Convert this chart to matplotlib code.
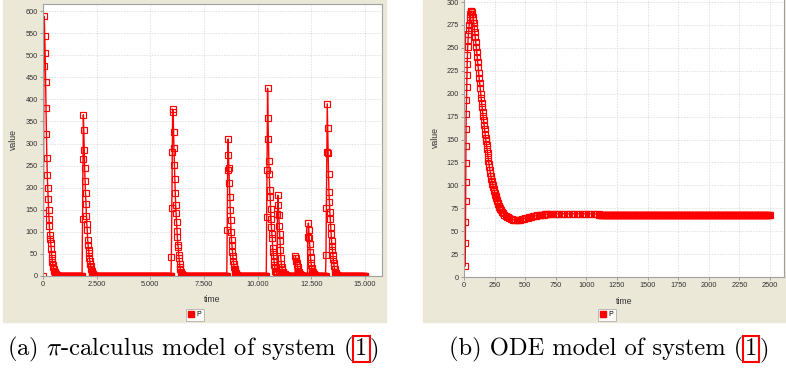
import numpy as np
import matplotlib
matplotlib.use("Agg")
import matplotlib.pyplot as plt
from matplotlib.patches import Rectangle
from matplotlib.lines import Line2D
from matplotlib.ticker import FuncFormatter, MultipleLocator

# ---- data: pi-calculus (stochastic) run, sampled every 20 time units ----
pi_step = 20
pi_end = 15000
spike_starts = [0, 1820, 5980, 8560, 10400, 10920, 11740, 12320, 13160]
spike_values = [
    [0, 142, 475, 588, 543, 505, 440, 380, 322, 268, 228, 200, 175, 150, 130, 113, 92, 84,
     75, 62, 50, 40, 32, 25, 20, 15, 12, 9, 7, 5, 4, 3, 2, 2, 1, 1],
    [0, 128, 265, 365, 330, 285, 245, 215, 188, 163, 135, 118, 105, 82, 70, 60, 52, 40,
     35, 28, 22, 15, 12, 8, 6, 5, 4, 3, 2, 1],
    [42, 155, 280, 378, 372, 325, 290, 252, 220, 188, 160, 143, 122, 103, 88, 70, 65, 48,
     40, 28, 20, 15, 10, 7, 5, 3, 2, 1],
    [0, 105, 240, 310, 275, 245, 210, 180, 150, 127, 100, 82, 70, 55, 45, 35, 28, 20,
     15, 12, 8, 6, 4, 3, 2, 1],
    [0, 133, 240, 425, 357, 310, 260, 230, 195, 180, 152, 128, 112, 95, 85, 63, 55, 45,
     35, 25, 18, 12, 10, 8, 6, 5],
    [140, 183, 160, 138, 113, 95, 80, 60, 40, 28, 20, 15, 10, 8, 6, 5, 5, 4, 3, 3, 2, 2, 1, 1],
    [0, 45, 40, 35, 30, 25, 20, 16, 12, 9, 7, 5, 4, 3, 2, 1, 1, 1, 1],
    [0, 88, 120, 105, 85, 72, 55, 42, 30, 25, 18, 12, 8, 6, 5, 4, 3, 2, 2, 1, 1],
    [0, 47, 155, 280, 390, 335, 278, 230, 190, 168, 145, 130, 112, 95, 80, 68, 60, 48,
     38, 30, 22, 15, 10, 8, 6, 4, 3, 2, 1],
]

# ---- data: ODE solution ----
ode_time = [10, 11, 12, 13, 14, 15, 16, 17, 18, 20, 22, 24, 26, 28, 30, 33, 36, 39, 42,
            45, 48, 51, 54, 57,
            60, 64, 68, 72, 76, 80, 84, 88, 92, 96, 100, 104, 108, 112, 116, 120, 124,
            128, 132, 136, 140, 144, 148, 152, 156, 160, 164, 168, 172, 176, 180, 184,
            188, 192, 196, 200, 204, 208, 212, 216, 220, 224, 228, 232, 236, 240, 244,
            248, 252, 256, 260, 264, 268, 272, 276, 280, 284, 288, 292, 296, 300,
            310, 320, 330, 340, 350, 360, 370, 380, 390, 400, 410, 420, 430, 440, 450,
            460, 470, 480, 490, 500, 510, 520, 530, 540, 550, 560, 570, 580, 590, 600,
            610, 620, 630, 640, 650, 660, 670, 680, 690, 700,
            720, 740, 760, 780, 800, 820, 840, 860, 880, 900, 920, 940, 960, 980, 1000,
            1020, 1040, 1060, 1080, 1100]
ode_value = [12, 37, 60, 83, 104, 124, 143, 162, 178, 193, 207, 220, 232, 242, 251, 259,
             265, 270, 275, 280, 284, 287, 289, 290,
             290, 289, 287, 284, 280, 277, 272, 267, 262, 256.5, 251, 246, 240, 234.5,
             229, 223, 217, 211.5, 206, 200, 195, 190, 185, 180.5, 176, 171, 166, 161,
             156.5, 152, 148, 144, 139.5, 135.5, 131, 127, 123, 120, 116.5, 113, 110,
             107, 104.5, 102, 100, 98, 96, 94, 92, 90, 88, 86, 84, 82.5, 81, 79.5, 78,
             76.5, 75, 74, 73,
             71, 69.5, 68, 67, 66, 65, 64.3, 63.6, 63, 62.6, 62.3, 62.1, 62.1, 62.2,
             62.4, 62.7, 63, 63.3, 63.7, 64, 64.4, 64.8, 65.1, 65.5, 65.8, 66.1, 66.4,
             66.7, 67, 67.2, 67.4, 67.6, 67.8, 68, 68.1, 68.3, 68.4, 68.5, 68.6, 68.7,
             68.8, 68.9, 69, 69, 69, 69, 69, 69, 69, 69, 69, 69, 69, 69, 69, 69, 69,
             69, 68.8, 68.6]
ode_tail_start, ode_tail_end, ode_tail_step = 1105, 2500, 5
ode_tail_value = 68

# ---- layout (pixels of the 786x368 picture) ----
W, H = 786, 368
beige = "#ebe8d8"
red = "#ff0000"


def fig_box(x0, y0, x1, y1):
    return [x0 / W, 1 - y1 / H, (x1 - x0) / W, (y1 - y0) / H]


plt.rcParams["font.family"] = ["Liberation Sans", "DejaVu Sans"]
plt.rcParams["mathtext.fontset"] = "cm"

fig = plt.figure(figsize=(W / 100, H / 100), dpi=100)
fig.patch.set_facecolor("white")
fig.add_artist(Rectangle((3 / W, 1 - 322 / H), (386 - 3) / W, 322 / H,
                         transform=fig.transFigure, color=beige, zorder=0))
fig.add_artist(Rectangle((423 / W, 1 - 322 / H), (786 - 423) / W, 322 / H,
                         transform=fig.transFigure, color=beige, zorder=0))

ax1 = fig.add_axes(fig_box(43, 4, 382, 276))
ax2 = fig.add_axes(fig_box(464, -3, 784, 277))

# build the sampled stochastic series
pi_time = np.arange(0, pi_end + pi_step, pi_step)
pi_value = np.zeros(len(pi_time))
for start, vals in zip(spike_starts, spike_values):
    i = start // pi_step
    pi_value[i:i + len(vals)] = vals

tail_t = list(range(ode_tail_start, ode_tail_end + 1, ode_tail_step))
ode_t = np.array(ode_time + tail_t)
ode_v = np.array(ode_value + [ode_tail_value] * len(tail_t))

style = dict(color=red, lw=1.0, marker="s", markersize=3.8, markerfacecolor="none",
             markeredgecolor=red, markeredgewidth=0.85)
ax1.plot(pi_time, pi_value, **style)
ax2.plot(ode_t, ode_v, **style)

ax1.set_xlim(0, 15790)
ax1.set_ylim(0, 616)
ax1.xaxis.set_major_locator(MultipleLocator(2500))
ax1.yaxis.set_major_locator(MultipleLocator(50))
ax1.xaxis.set_major_formatter(FuncFormatter(lambda v, p: f"{int(v):,}".replace(",", ".")))

ax2.set_xlim(0, 2614)
ax2.set_ylim(0, 305.5)
ax2.xaxis.set_major_locator(MultipleLocator(250))
ax2.yaxis.set_major_locator(MultipleLocator(25))

for ax, ylab_x, xlab_y in [(ax1, -0.074, -0.07), (ax2, -0.075, -0.071)]:
    ax.set_facecolor("white")
    ax.grid(True, color="#d4d4d4", lw=0.5, ls=(0, (2, 2)))
    ax.set_axisbelow(True)
    for s in ax.spines.values():
        s.set_color("#a0a0a0")
        s.set_linewidth(0.8)
    ax.tick_params(direction="out", length=2, width=0.5, color="#808080",
                   labelsize=5.3, labelcolor="#333333", pad=1.5)
    ax.set_ylabel("value", fontsize=6.3, color="#333333")
    ax.set_xlabel("time", fontsize=6.3, color="#333333")
    ax.yaxis.set_label_coords(ylab_x, 0.5)
    ax.xaxis.set_label_coords(0.5, xlab_y)

# legends below the plots
handle = [Line2D([], [], ls="none", marker="s", markersize=4, color=red)]
for ax, cx in [(ax1, 195), (ax2, 607)]:
    leg = ax.legend(handle, ["P"], loc="center", bbox_to_anchor=(cx / W, 1 - 315 / H),
                    bbox_transform=fig.transFigure, fontsize=5, frameon=True,
                    fancybox=False, handlelength=0.8, handletextpad=0.4,
                    borderpad=0.35, borderaxespad=0)
    leg.get_frame().set_edgecolor("#a0a0a0")
    leg.get_frame().set_linewidth(0.6)


# captions in Computer Modern, with the red link box around the equation number
def caption(x_px, prefix):
    kw = dict(fontfamily="cmr10", fontsize=17.7, va="baseline", ha="left")
    y = 1 - 355 / H
    t1 = fig.text(x_px / W, y, prefix, **kw)
    fig.canvas.draw()
    x1 = t1.get_window_extent().x1
    t2 = fig.text(x1 / W + 2 / W, y, "1", **kw,
                  bbox=dict(boxstyle="square,pad=0.08", fc="none", ec="red", lw=1.5))
    fig.canvas.draw()
    x2 = t2.get_window_extent().x1
    fig.text(x2 / W + 2 / W, y, ")", **kw)


caption(7, r"(a) $\pi$-calculus model of system (")
caption(449, "(b) ODE model of system (")

fig.savefig("out.png", dpi=100)
